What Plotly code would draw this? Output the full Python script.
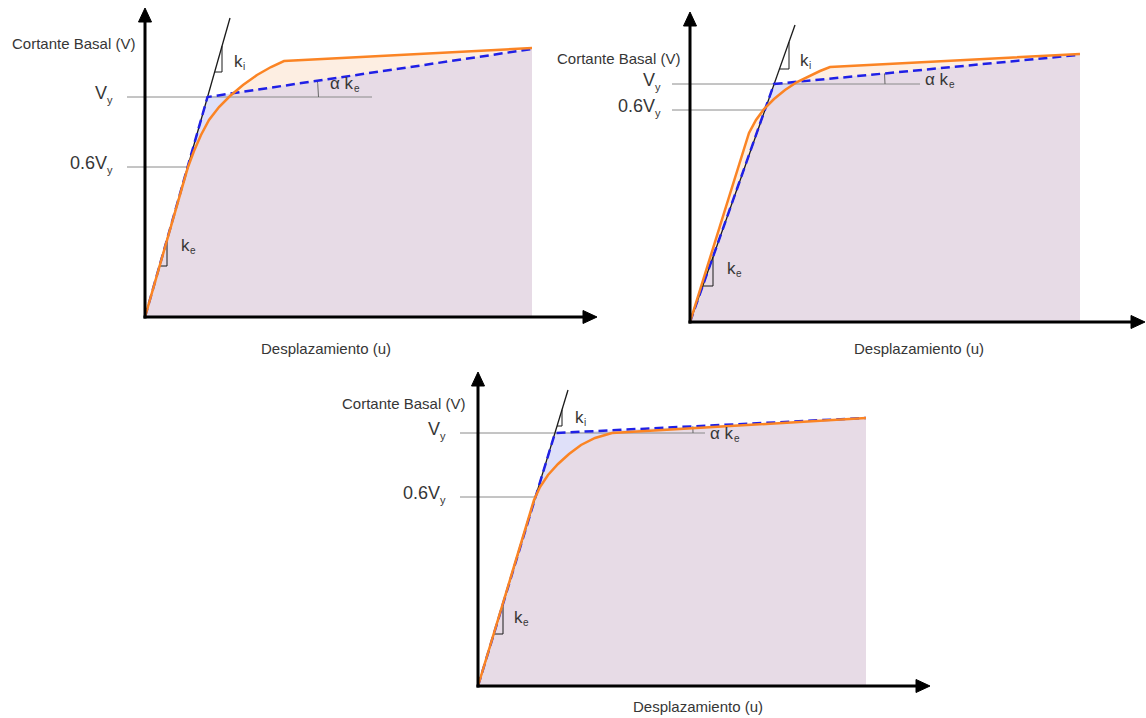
import numpy as np
import plotly.graph_objects as go

W, H = 1146, 718
PX = 100.0  # screen pixels per data unit on both axes of every panel

# ---------------- data: base shear V versus displacement u ----------------
# capacity curves (orange)
cap_u_1 = [0, 0.43, 0.49, 0.56, 0.64, 0.74, 0.85, 0.98, 1.12, 1.26, 1.39, 3.87]
cap_v_1 = [0, 1.50, 1.66, 1.82, 1.97, 2.10, 2.21, 2.32, 2.42, 2.50, 2.56, 2.69]

cap_u_2 = [0, 0.59, 0.66, 0.74, 0.84, 0.95, 1.07, 1.19, 1.30, 1.40, 3.90]
cap_v_2 = [0, 1.89, 2.02, 2.13, 2.23, 2.32, 2.40, 2.46, 2.51, 2.55, 2.68]

cap_u_3 = [0, 0.56, 0.62, 0.70, 0.80, 0.91, 1.03, 1.17, 1.34, 3.88]
cap_v_3 = [0, 1.86, 1.99, 2.11, 2.22, 2.32, 2.41, 2.48, 2.53, 2.68]

# idealised bilinear curves (blue dashed)
bil_u_1 = [0, 0.625, 3.87]
bil_v_1 = [0, 2.20, 2.68]
bil_u_2 = [0, 0.84, 3.88]
bil_v_2 = [0, 2.38, 2.67]
bil_u_3 = [0, 0.77, 3.88]
bil_v_3 = [0, 2.53, 2.68]

# stiffness lines (black): end point of each line from the origin
stiff_u = [0.85, 1.05, 0.90]
stiff_v = [2.99, 2.97, 2.96]

# reference levels on the V axis and their tick texts (main part, subscript)
vy_level = [2.20, 2.38, 2.53]
v06_level = [1.50, 2.12, 1.89]
vy_text = ("V", "y")
v06_text = ("0.6V", "y")
level_label_u = [-0.30, -0.27, -0.30]
vy_line_end = [2.27, 2.30, 2.27]

# slope triangles: (horizontal leg level, vertical leg position)
ki_tri = [(2.45, 0.77), (2.53, 0.99), (2.60, 0.84)]
ke_tri = [(0.51, 0.22), (0.36, 0.23), (0.52, 0.25)]

# axis arrow tips (u at end of horizontal axis, V at end of vertical axis)
axis_u_tip = [4.52, 4.55, 4.52]
axis_v_tip = [3.09, 3.10, 3.14]

# stiffness labels (left edge, centre height)
ki_text = ("k", "i")
ke_text = ("k", "e")
alpha_text = ("α k", "e")
lab_ki = [(0.87, 2.56), (1.08, 2.62), (0.95, 2.69)]
lab_ke = [(0.34, 0.72), (0.35, 0.54), (0.34, 0.69)]
lab_alpha = [(1.83, 2.34), (2.33, 2.43), (2.30, 2.53)]
arc_radius = [1.11, 1.11, 1.38]

# axis titles
lab_v_title = [(-0.08, 2.74), (-0.08, 2.64), (-0.11, 2.83)]
lab_u_title = [(1.81, -0.31), (2.29, -0.26), (2.20, -0.20)]
title_v = "Cortante Basal (V)"
title_u = "Desplazamiento (u)"

# ---------------- styles ----------------
ORANGE = "#fb8424"
BLUE = "#2020e6"
MAUVE = "#e7dbe6"
LAVENDER = "#dfe0f9"
PEACH = "#fdeee2"
GRAY = "#8a8a8a"
TXT = "#363636"
SANS = "Liberation Sans, Arial, sans-serif"
HEAD_LEN, HEAD_HALF = 0.14, 0.065  # arrow head size in data units
LEVEL_SIZE, LEVEL_SUB = 18, 11
K_SIZE, K_SUB = 17, 10
EM = {"V": 0.667, "0.6V": 2.057, "k": 0.5, "α k": 1.36, "y": 0.5}

# screen boxes of the three panels: origin (x, y) and extents (left, right, top, bottom)
panel_boxes = [
    dict(ox=145, oy=317, left=0, right=610, top=0, bottom=362),
    dict(ox=690, oy=322, left=545, right=1146, top=0, bottom=362),
    dict(ox=478, oy=686, left=330, right=950, top=365, bottom=718),
]

caps = [(cap_u_1, cap_v_1), (cap_u_2, cap_v_2), (cap_u_3, cap_v_3)]
bils = [(bil_u_1, bil_v_1), (bil_u_2, bil_v_2), (bil_u_3, bil_v_3)]

fig = go.Figure()
layout_axes = {}
annotations = []


def text_ann(xa, ya, x, y, text, size, xanchor, xshift=0, yshift=0):
    annotations.append(dict(x=x, y=y, xref=xa, yref=ya, text=text, showarrow=False,
                            xanchor=xanchor, yanchor="middle", xshift=xshift, yshift=yshift,
                            font=dict(family=SANS, size=size, color=TXT)))


for i in range(3):
    b = panel_boxes[i]
    sfx = "" if i == 0 else str(i + 1)
    xa, ya = "x" + sfx, "y" + sfx
    layout_axes["xaxis" + sfx] = dict(
        domain=[b["left"] / W, b["right"] / W],
        range=[(b["left"] - b["ox"]) / PX, (b["right"] - b["ox"]) / PX],
        visible=False, fixedrange=True, anchor=ya,
    )
    layout_axes["yaxis" + sfx] = dict(
        domain=[1 - b["bottom"] / H, 1 - b["top"] / H],
        range=[(b["oy"] - b["bottom"]) / PX, (b["oy"] - b["top"]) / PX],
        visible=False, fixedrange=True, anchor=xa,
    )

    cu, cv = caps[i]
    bu, bv = bils[i]
    grid = np.union1d(np.linspace(0, cu[-1], 500), np.union1d(cu, bu))
    grid = grid[grid <= cu[-1]]
    vc = np.interp(grid, cu, cv)
    vb = np.interp(grid, bu, bv)
    vmin = np.minimum(vc, vb)

    common = dict(xaxis=xa, yaxis=ya, showlegend=False, hoverinfo="skip", cliponaxis=False)
    # shaded areas: capacity (peach), bilinear (lavender), shared area (mauve)
    fig.add_trace(go.Scatter(x=grid, y=vc, mode="lines", line=dict(width=0),
                             fill="tozeroy", fillcolor=PEACH, **common))
    fig.add_trace(go.Scatter(x=grid, y=vb, mode="lines", line=dict(width=0),
                             fill="tozeroy", fillcolor=LAVENDER, **common))
    fig.add_trace(go.Scatter(x=grid, y=vmin, mode="lines", line=dict(width=0),
                             fill="tozeroy", fillcolor=MAUVE, **common))

    # horizontal reference lines at Vy and 0.6Vy
    slope = stiff_v[i] / stiff_u[i]
    fig.add_trace(go.Scatter(x=[-0.18, vy_line_end[i]], y=[vy_level[i]] * 2, mode="lines",
                             line=dict(color=GRAY, width=1), **common))
    fig.add_trace(go.Scatter(x=[-0.18, v06_level[i] / slope], y=[v06_level[i]] * 2, mode="lines",
                             line=dict(color=GRAY, width=1), **common))

    # stiffness line from the origin
    fig.add_trace(go.Scatter(x=[0, stiff_u[i]], y=[0, stiff_v[i]], mode="lines",
                             line=dict(color="#1a1a1a", width=1.3), **common))

    # slope triangles
    for lvl, ux in (ki_tri[i], ke_tri[i]):
        fig.add_trace(go.Scatter(x=[lvl / slope, ux, ux], y=[lvl, lvl, ux * slope], mode="lines",
                                 line=dict(color="#1a1a1a", width=1), **common))

    # angle arc between the Vy level and the post-yield branch
    uy, vy = bu[1], bv[1]
    ang = np.arctan2(bv[2] - bv[1], bu[2] - bu[1])
    th = np.linspace(0, ang, 20)
    fig.add_trace(go.Scatter(x=uy + arc_radius[i] * np.cos(th), y=vy + arc_radius[i] * np.sin(th),
                             mode="lines", line=dict(color="#666666", width=1), **common))

    # bilinear idealisation, with the capacity curve drawn over it
    fig.add_trace(go.Scatter(x=bu, y=bv, mode="lines",
                             line=dict(color=BLUE, width=2.5, dash="9px,5px"), **common))
    fig.add_trace(go.Scatter(x=cu, y=cv, mode="lines", line=dict(color=ORANGE, width=2.5), **common))

    # axes with filled arrow heads
    ut, vt = axis_u_tip[i], axis_v_tip[i]
    fig.add_trace(go.Scatter(x=[-0.015, ut - HEAD_LEN + 0.02], y=[0, 0], mode="lines",
                             line=dict(color="black", width=3), **common))
    fig.add_trace(go.Scatter(x=[0, 0], y=[-0.015, vt - HEAD_LEN + 0.02], mode="lines",
                             line=dict(color="black", width=3), **common))
    fig.add_trace(go.Scatter(x=[ut, ut - HEAD_LEN, ut - HEAD_LEN, ut],
                             y=[0, HEAD_HALF, -HEAD_HALF, 0], mode="lines", fill="toself",
                             fillcolor="black", line=dict(color="black", width=1), **common))
    fig.add_trace(go.Scatter(x=[0, HEAD_HALF, -HEAD_HALF, 0],
                             y=[vt, vt - HEAD_LEN, vt - HEAD_LEN, vt], mode="lines", fill="toself",
                             fillcolor="black", line=dict(color="black", width=1), **common))

    # level labels: main text right-aligned before a small subscript
    sub_w = EM["y"] * LEVEL_SUB + 0.5
    for (main, sub), lvl in ((vy_text, vy_level[i]), (v06_text, v06_level[i])):
        text_ann(xa, ya, level_label_u[i], lvl, main, LEVEL_SIZE, "right", xshift=-sub_w, yshift=4)
        text_ann(xa, ya, level_label_u[i], lvl, sub, LEVEL_SUB, "right", yshift=-3)

    # axis titles
    text_ann(xa, ya, lab_v_title[i][0], lab_v_title[i][1], title_v, 15, "right")
    annotations.append(dict(x=lab_u_title[i][0], y=lab_u_title[i][1], xref=xa, yref=ya, text=title_u,
                            showarrow=False, xanchor="center", yanchor="middle",
                            font=dict(family=SANS, size=15, color=TXT)))

    # stiffness labels: main text followed by a small subscript
    for (lx, ly), (main, sub) in ((lab_ki[i], ki_text), (lab_ke[i], ke_text),
                                  (lab_alpha[i], alpha_text)):
        text_ann(xa, ya, lx, ly, main, K_SIZE, "left")
        text_ann(xa, ya, lx, ly, sub, K_SUB, "left", xshift=EM[main] * K_SIZE + 0.5, yshift=-5)

fig.update_layout(
    width=W, height=H, margin=dict(l=0, r=0, t=0, b=0),
    paper_bgcolor="white", plot_bgcolor="rgba(0,0,0,0)",
    showlegend=False, annotations=annotations, **layout_axes,
)

fig.write_html("out.html", config=dict(displayModeBar=False))
